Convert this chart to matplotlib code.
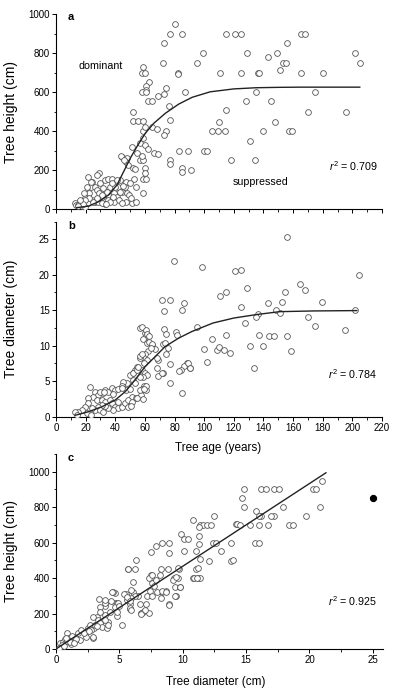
#!/usr/bin/env python3
"""Tree height and diameter against age, and height against diameter."""
import numpy as np
import matplotlib
matplotlib.use('Agg')
import matplotlib.pyplot as plt
from matplotlib.ticker import MultipleLocator

plt.rcParams['font.family'] = ['Liberation Sans', 'DejaVu Sans']
plt.rcParams['mathtext.fontset'] = 'custom'
plt.rcParams['mathtext.rm'] = 'Liberation Sans'
plt.rcParams['mathtext.it'] = 'Liberation Sans:italic'

# panel a: age (years) vs height (cm)
age_a = [165, 77, 85, 80, 73, 72, 82, 82, 99, 95, 87, 74, 73, 69, 76, 77, 59, 58, 60, 63,
         61, 61, 58, 61, 62, 65, 52, 52, 55, 59, 59, 60, 65, 68, 74, 73, 83, 89, 85, 85,
         91, 77, 77, 100, 102, 105, 109, 114, 110, 115, 118, 111, 115, 121, 125, 129, 125, 128, 131, 134,
         135, 136, 137, 140, 143, 145, 148, 149, 151, 153, 155, 156, 157, 159, 165, 168, 170, 175, 180, 196,
         202, 205,
         57, 60, 59, 62, 66, 69, 51, 44.5, 48, 47, 52, 53, 48.5, 54.6, 56.9, 58.4, 58, 59.8,
         60, 58.7, 60.7, 59, 52.8, 54, 47, 50, 44, 46,
         28.7, 27.5, 24, 23.7, 21, 19.6, 13, 13.5, 15, 17.4, 22, 26, 27.5, 29, 31, 33, 35.4, 37.6,
         40, 42, 36.5, 34, 35.4, 39, 41, 44.5, 46.7, 48, 49, 47, 51, 39, 35.4, 33, 24, 26.4,
         28.6, 30.9, 21.9, 19.6, 43,
         19.2, 21.2, 23.5, 21.9, 29.8, 32, 34.7, 30.9, 27.5, 25.3, 22.6, 19.6, 18, 16.2, 15.1,
         39.9, 37.7, 41.5, 43.3, 38.8, 42.2, 44.4, 36.6, 33.8, 45.5, 50.5, 54.2]
height_a = [900, 900, 900, 950, 850, 750, 700, 690, 800, 750, 600, 620, 590, 580, 528, 456, 730, 700, 700, 650,
            630, 610, 600, 600, 552, 552, 500, 450, 450, 450, 400, 420, 420, 410, 400, 380, 300, 300, 208, 190,
            198, 251, 229, 300, 300, 400, 400, 400, 448, 509, 251, 700, 900, 900, 900, 800, 700, 552, 349, 251,
            600, 700, 700, 400, 781, 552, 448, 800, 711, 750, 750, 850, 400, 400, 700, 900, 500, 600, 700, 500,
            800, 750,
            337, 328, 362, 306, 289, 282, 320, 268, 263, 243, 208, 203, 225, 285, 251, 251, 272, 208,
            186, 152, 152, 84, 153, 114, 140, 132, 272, 250,
            186, 174, 140, 111, 72, 55, 29, 22, 21, 15, 84, 114, 97, 80, 63, 149, 152, 153,
            132, 114, 114, 89, 72, 80, 63, 89, 114, 80, 72, 38, 32, 38, 46, 26, 46, 38,
            38, 29, 29, 12, 149,
            84, 115, 140, 166, 135, 106, 89, 72, 55, 38, 55, 46, 26, 46, 15,
            115, 135, 149, 89, 63, 46, 29, 38, 26, 120, 55, 38]

# fitted curve, panel a
fit_age_a = [14, 22, 28.6, 35.4, 41.1, 45.6, 50.1, 54.6, 60.2, 65.9, 73.8, 82.8, 91.9,
             104, 120, 135, 150, 165, 185, 205]
fit_height_a = [7, 15, 37, 72, 123, 191, 260, 320, 388, 439, 491, 538, 573,
                601, 616, 622, 624, 625, 625, 625]

# panel b: age (years) vs diameter (cm)
age_b = [155.8, 98.4, 120.5, 125, 204.7, 164.8, 167.8, 128.8, 114.8, 110.8, 154.8, 152.5, 142.8, 179.8,
         124.8, 148.7, 150.9, 136, 135, 169.9, 174.8, 201.6, 195.3, 127.5, 95.1, 86.5, 85, 114.9, 137,
         105, 100, 108.6, 110.2, 113.6, 117.6, 143.8, 147.2, 155.8, 130.9, 139.6, 158.5, 101.8, 133.8,
         88.7, 90.6, 86.5, 84.3, 85, 79.7,
         72.7, 71.8, 76.6, 56.7, 60.1, 60.6, 59, 61.3, 64.6, 73, 74, 80.8, 81.5, 75.9, 72.5, 67, 62.4,
         60, 59, 56.7, 61.3, 59.7, 69, 77, 77, 72.5, 83.3, 89, 90.5, 58, 60.1, 61.3, 59, 56.7, 59.7,
         60.6, 58.3, 57.4, 59, 53.4, 52.2, 54.5, 50, 52.2, 47.7, 45.5, 44.4, 47, 50, 51, 54, 53.4,
         33, 32, 35.3, 37.6, 40, 42, 44.4, 23, 26.3, 28.6, 25.2, 21.8, 27.5, 30.9, 33.1, 36.5, 37.6,
         40, 42, 44.4, 46.6, 48.8, 38.7, 35.3, 33.1, 30.9, 28.6, 26.3, 24.1, 21.8, 19.6, 17.3, 15.1,
         12.8, 14, 20.7, 23.6, 29.7, 32,
         29.7, 32.4, 38.7, 42.1, 48.9, 51.1, 50.4, 54.5, 56.7, 60.8, 59.7, 51.8, 54.5, 55.6, 56.7, 57.9,
         58.3, 60.6, 61.2, 62.6, 62.6, 64.6, 63.9, 68, 68, 69.1, 71.8, 74.1, 73.4]
diam_b = [25.3, 21.1, 20.5, 20.7, 20.0, 18.75, 17.8, 18.2, 17.5, 17.0, 17.5, 16.2, 16.0, 16.2,
          15.5, 15.0, 14.6, 14.4, 14.0, 14.0, 12.8, 15.0, 12.2, 13.2, 12.7, 16.0, 15.0, 11.5, 11.5,
          10.9, 9.6, 9.45, 9.8, 9.45, 9.0, 11.3, 11.3, 11.3, 10.0, 10.0, 9.3, 7.7, 6.87,
          7.6, 6.9, 7.2, 6.6, 3.4, 22.0,
          14.9, 16.4, 16.4, 12.5, 11.75, 11.3, 10.9, 10.4, 10.1, 12.4, 11.6, 12.0, 11.5, 9.7, 10.2, 9.5, 9.2,
          8.9, 8.4, 8.2, 8.0, 7.5, 8.0, 7.4, 4.8, 6.2, 6.5, 7.6, 6.8, 6.6, 6.2, 5.9, 5.6, 5.6, 4.3,
          3.8, 3.9, 3.1, 2.5, 6.6, 6.2, 7.05, 5.9, 5.2, 4.7, 4.9, 4.3, 3.8, 3.9, 2.8, 2.6, 4.7,
          3.8, 3.3, 3.5, 4.0, 3.8, 3.9, 4.1, 4.2, 3.5, 3.1, 2.8, 2.6, 2.35, 2.35, 2.1, 2.35, 1.9,
          1.4, 1.2, 1.4, 1.9, 2.35, 0.95, 1.2, 1.5, 1.6, 1.4, 0.95, 1.2, 1.9, 1.4, 0.95, 0.7,
          0.6, 0.25, 0.5, 0.3, 0.95, 0.7,
          3.5, 3.5, 3.15, 2.0, 1.4, 2.0, 1.5, 2.6, 3.8, 4.3, 3.9, 6.2, 6.6, 7.05, 8.5, 8.9,
          12.6, 12.2, 11.7, 11.3, 10.5, 10.2, 9.7, 8.2, 6.8, 5.7, 6.2, 8.9, 10.4]

# fitted curve, panel b
fit_age_b = [13, 22, 31, 40, 46.6, 53.4, 60.1, 66.9, 73.6, 82.6, 91.7, 100, 106,
             120, 135.6, 151, 174, 203]
fit_diam_b = [0.2, 0.7, 1.4, 2.35, 3.5, 5.2, 7.05, 8.46, 9.87, 11.05, 12.0, 12.7, 13.2,
              13.9, 14.4, 14.8, 14.9, 14.95]

# panel c: diameter (cm) vs height (cm)
diam_c = [21.0, 20.3, 20.5, 14.8, 16.2, 16.6, 17.2, 17.6, 14.7, 14.8, 20.8, 17.9, 15.8, 17.2, 16.2,
          16.0, 12.5, 19.7, 14.2, 14.3, 15.3, 16.0, 16.7, 18.4, 10.8, 11.4, 11.6, 11.9, 12.2, 11.3,
          11.3, 9.9, 10.1, 10.4, 12.4, 12.6, 13.8, 11.3, 15.7, 13.0, 10.1, 11.05, 12.05, 13.8, 11.4,
          10.8, 11.2, 11.4, 11.05, 8.95, 8.9, 8.4, 7.9, 7.5, 7.5, 7.5, 7.6, 7.7, 8.2, 8.8, 9.7,
          9.6, 9.3, 9.4, 9.8, 8.4, 8.7, 8.3, 9.5, 8.9, 7.2, 7.1, 7.3, 6.7, 6.6, 6.45, 6.1, 6.2,
          5.8, 5.8, 5.6, 5.5, 5.7, 6.2, 6.3, 5.9, 5.9, 4.8, 4.65, 4.8, 4.65, 4.5, 3.9, 3.95, 3.9,
          4.1, 3.85, 3.4, 3.5, 3.5, 3.2, 2.95, 3.0, 2.9,
          0.9, 0.32, 0.55, 0.7, 0.9, 1.0, 0.45, 0.2, 1.5, 1.76, 2.0, 1.9, 2.3, 2.55, 2.7, 2.4,
          2.8, 2.95, 3.1, 3.34, 3.47, 3.6, 3.9, 4.0, 4.13, 3.87, 3.87, 4.26, 4.66, 4.92, 4.79,
          4.45, 5.4, 5.6, 5.8, 5.84, 5.92, 5.7, 6.1, 6.9, 7.0, 6.7, 7.4, 7.55, 7.95, 7.3, 7.6,
          7.9, 8.3, 8.9, 8.4, 8.7, 9.4, 9.8, 9.2, 9.5, 9.65, 10.85, 11.1, 11.2,
          1.2, 1.3, 0.6, 1.1, 1.6, 2.2, 1.4, 0.8, 2.6, 3.2, 4.3, 5.0, 5.2, 14.0, 16.0, 17.0, 14.5, 18.7]
height_c = [947, 900, 900, 900, 900, 900, 900, 900, 850, 800, 800, 800, 776, 752, 752,
            752, 750, 752, 705, 705, 701, 701, 701, 701, 729, 700, 700, 700, 700, 686,
            637, 648, 622, 622, 600, 600, 600, 590, 600, 551, 551, 551, 498, 498, 509,
            398, 398, 398, 449, 539, 600, 600, 581, 549, 417, 398, 374, 355, 417, 449, 449,
            398, 398, 351, 350, 323, 327, 289, 299, 252, 301, 252, 205, 205, 252, 301, 321, 301,
            254, 224, 276, 310, 451, 449, 502, 333, 288, 186, 258, 258, 314, 321, 244, 267, 192,
            152, 135, 282, 235, 209, 182, 182, 117, 64,
            88, 32, 40, 55, 45, 60, 20, 8, 69, 88, 107, 51, 88, 117, 135, 69,
            107, 69, 135, 163, 145, 126, 163, 117, 135, 257, 276, 210, 238, 257, 210,
            323, 312, 295, 271, 229, 219, 449, 380, 210, 219, 200, 329, 299, 323, 398, 417,
            389, 449, 248, 329, 323, 299, 350, 391, 406, 455, 398, 398, 455,
            30, 75, 15, 40, 55, 90, 35, 60, 100, 130, 270, 240, 135, 500, 600, 750, 700, 700]

# fitted line and highlighted tree, panel c
fit_diam_c = [0, 21.3]
fit_height_c = [0, 994]
outlier_diam = [25.0]
outlier_height = [850]

fig = plt.figure(figsize=(4.0, 6.91), dpi=100)
ax_a = fig.add_axes([0.14, 0.6975, 0.815, 0.2822])
ax_b = fig.add_axes([0.14, 0.3970, 0.815, 0.2824])
ax_c = fig.add_axes([0.14, 0.0608, 0.8175, 0.2822])

mk = dict(s=17, facecolors='white', edgecolors='#555555', linewidths=0.6, zorder=3)

ax_a.scatter(age_a, height_a, **mk)
ax_a.plot(fit_age_a, fit_height_a, color='#222222', lw=1.0, zorder=4)
ax_b.scatter(age_b, diam_b, **mk)
ax_b.plot(fit_age_b, fit_diam_b, color='#222222', lw=1.0, zorder=4)
ax_c.scatter(diam_c, height_c, **mk)
ax_c.plot(fit_diam_c, fit_height_c, color='#222222', lw=1.0, zorder=4)
ax_c.scatter(outlier_diam, outlier_height, s=18, color='black', zorder=5)

ax_a.set_xlim(0, 220)
ax_a.set_ylim(0, 1000)
ax_b.set_xlim(0, 220)
ax_b.set_ylim(0, 27.5)
ax_c.set_xlim(0, 25.8)
ax_c.set_ylim(0, 1100)

for ax in (ax_a, ax_b, ax_c):
    ax.patch.set_visible(False)
    ax.spines['top'].set_visible(False)
    ax.spines['right'].set_visible(False)
    ax.spines['left'].set_linewidth(0.8)
    ax.spines['bottom'].set_linewidth(0.8)
    ax.tick_params(which='major', direction='out', length=3, width=0.7, labelsize=7, pad=1.5)
    ax.tick_params(which='minor', direction='out', length=1.8, width=0.6)

ax_a.xaxis.set_major_locator(MultipleLocator(20))
ax_a.xaxis.set_minor_locator(MultipleLocator(10))
ax_a.tick_params(axis='x', labelbottom=False)
ax_a.yaxis.set_major_locator(MultipleLocator(200))
ax_a.yaxis.set_minor_locator(MultipleLocator(100))

ax_b.xaxis.set_major_locator(MultipleLocator(20))
ax_b.xaxis.set_minor_locator(MultipleLocator(10))
ax_b.yaxis.set_major_locator(MultipleLocator(5))
ax_b.yaxis.set_minor_locator(MultipleLocator(2.5))

ax_c.xaxis.set_major_locator(MultipleLocator(5))
ax_c.xaxis.set_minor_locator(MultipleLocator(2.5))
ax_c.yaxis.set_major_locator(MultipleLocator(200))
ax_c.yaxis.set_minor_locator(MultipleLocator(100))

ax_a.set_ylabel('Tree height (cm)', fontsize=10)
ax_b.set_ylabel('Tree diameter (cm)', fontsize=10)
ax_c.set_ylabel('Tree height (cm)', fontsize=10)
ax_b.set_xlabel('Tree age (years)', fontsize=8.5)
ax_c.set_xlabel('Tree diameter (cm)', fontsize=8.5)
for ax in (ax_a, ax_b, ax_c):
    ax.yaxis.set_label_coords(-0.117, 0.5)
ax_b.xaxis.set_label_coords(0.497, -0.13)
ax_c.xaxis.set_label_coords(0.49, -0.14)

ax_a.text(8, 985, 'a', fontsize=8, fontweight='bold', va='center')
ax_b.text(8, 26.9, 'b', fontsize=8, fontweight='bold', va='center')
ax_c.text(0.95, 1075, 'c', fontsize=8, fontweight='bold', va='center')

ax_a.text(30.3, 733, 'dominant', fontsize=7.7, ha='center', va='center')
ax_a.text(138, 138, 'suppressed', fontsize=7.7, ha='center', va='center')
ax_a.text(217, 220, '$r^2$ = 0.709', fontsize=7.7, ha='right', va='center')
ax_b.text(216.6, 6.0, '$r^2$ = 0.784', fontsize=7.7, ha='right', va='center')
ax_c.text(25.3, 272, '$r^2$ = 0.925', fontsize=7.7, ha='right', va='center')

plt.savefig('out.png', dpi=100)
